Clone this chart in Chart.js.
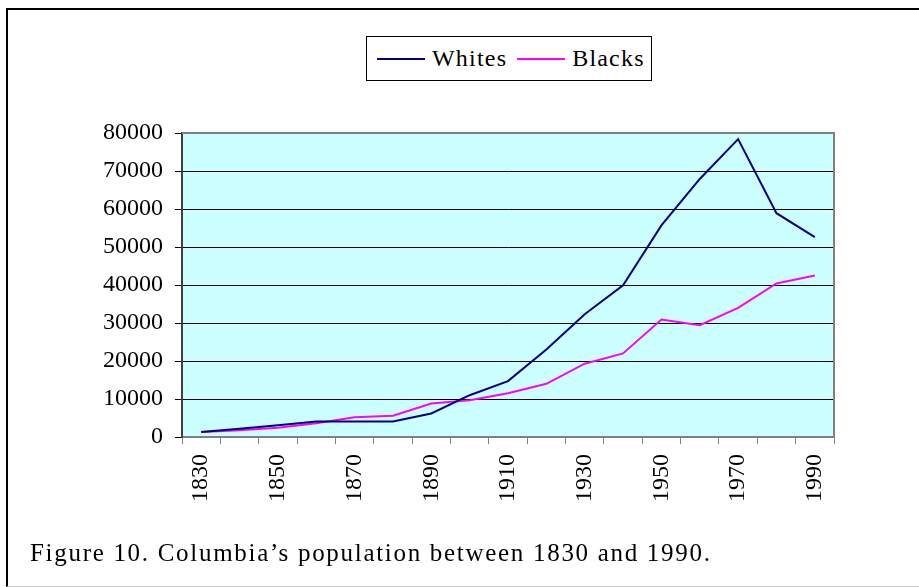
<!DOCTYPE html>
<html>
<head>
<meta charset="utf-8">
<script src="https://cdn.jsdelivr.net/npm/chart.js@4/dist/chart.umd.min.js"></script>
<style>
  html, body { margin: 0; padding: 0; background: #fff; }
  body { width: 919px; height: 587px; position: relative; overflow: hidden; font-family: "Liberation Serif", serif; }
  #frame { position: absolute; left: 6px; top: 8px; width: 930px; height: 576px; border-top: 2px solid #000; border-left: 2px solid #000; border-bottom: 1px solid #ccc; }
  #wrap { position: absolute; left: 0; top: 0; width: 919px; height: 587px; }
  #legend { position: absolute; left: 366px; top: 36px; width: 284px; height: 43px; border: 1px solid #000; background: #fff; display: flex; align-items: center; font-size: 24px; color: #000; letter-spacing: 1.2px; }
  #legend .sw { display: inline-block; width: 48px; height: 2px; margin-left: 10px; margin-right: 7px; }
  #caption { position: absolute; left: 30px; top: 539px; font-size: 25px; color: #000; white-space: nowrap; letter-spacing: 1.7px; }
</style>
</head>
<body>
<div id="frame"></div>
<div id="wrap"><canvas id="popChart" width="919" height="587"></canvas></div>
<div id="legend">
  <span class="sw" style="background:#000080"></span><span>Whites</span>
  <span class="sw" style="background:#ff00ff"></span><span>Blacks</span>
</div>
<div id="caption">Figure 10. Columbia’s population between 1830 and 1990.</div>
<script>
// Census years and population counts
const years = ['1830', '1840', '1850', '1860', '1870', '1880', '1890', '1900', '1910',
               '1920', '1930', '1940', '1950', '1960', '1970', '1980', '1990'];
const whites = [1300, 2200, 3100, 4100, 4100, 4100, 6200, 11000, 14700,
                23000, 32300, 39900, 55700, 67900, 78400, 58900, 52600];
const blacks = [1300, 1750, 2450, 3600, 5200, 5600, 8800, 9700, 11500,
                14000, 19300, 22000, 30900, 29400, 34000, 40400, 42500];
const yTicks = [0, 10000, 20000, 30000, 40000, 50000, 60000, 70000, 80000];

// plot background + grey frame around the plot area
const plotBox = {
    id: 'plotBox',
    beforeDraw(chart) {
        const { ctx, chartArea: a } = chart;
        ctx.save();
        ctx.fillStyle = '#ccffff';
        ctx.fillRect(a.left, a.top, a.right - a.left, a.bottom - a.top);
        ctx.restore();
    },
    afterDatasetsDraw(chart) {
        const { ctx, chartArea: a } = chart;
        ctx.save();
        ctx.strokeStyle = '#808080';
        ctx.lineWidth = 2;
        ctx.beginPath();
        ctx.moveTo(a.left, a.top);
        ctx.lineTo(a.right, a.top);
        ctx.lineTo(a.right, a.bottom);
        ctx.stroke();
        ctx.restore();
    }
};

const ctx = document.getElementById('popChart').getContext('2d');
new Chart(ctx, {
    type: 'line',
    data: {
        labels: years,
        datasets: [
            { label: 'Whites', data: whites, borderColor: '#000080', backgroundColor: '#000080', borderWidth: 2, pointRadius: 0, tension: 0 },
            { label: 'Blacks', data: blacks, borderColor: '#ff00ff', backgroundColor: '#ff00ff', borderWidth: 2, pointRadius: 0, tension: 0 }
        ]
    },
    options: {
        responsive: false,
        animation: false,
        layout: { padding: { top: 133, right: 85, left: 0, bottom: 0 } },
        plugins: { legend: { display: false }, tooltip: { enabled: false } },
        scales: {
            x: {
                offset: true,
                grid: { offset: true, drawOnChartArea: false, drawTicks: true, tickLength: 7, color: '#808080' },
                border: { color: '#808080', width: 2 },
                ticks: {
                    autoSkip: false,
                    minRotation: 90,
                    maxRotation: 90,
                    padding: 10,
                    color: '#000',
                    font: { family: 'Liberation Serif', size: 24 },
                    callback: (v, i) => (i % 2 === 0 ? years[i] : '')
                },
                afterFit(scale) { scale.height = 150; }
            },
            y: {
                min: 0,
                max: 80000,
                afterBuildTicks(scale) { scale.ticks = yTicks.map(v => ({ value: v })); },
                grid: { color: '#000', lineWidth: 1, tickLength: 7, tickColor: '#000' },
                border: { color: '#404040', width: 2 },
                ticks: {
                    padding: 12,
                    color: '#000',
                    font: { family: 'Liberation Serif', size: 24 },
                    callback: v => String(v)
                },
                afterFit(scale) { scale.width = 182; }
            }
        }
    },
    plugins: [plotBox]
});
</script>
</body>
</html>
